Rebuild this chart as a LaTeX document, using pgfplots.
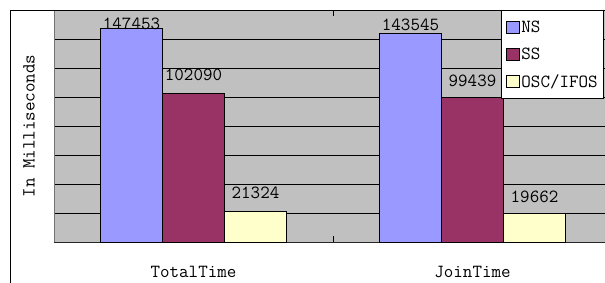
\documentclass[border=0pt]{standalone}
\usepackage{fontspec}
\usepackage{pgfplots}
\usepackage{pgfplotstable}
\pgfplotsset{compat=1.18}
\definecolor{nsc}{RGB}{153,153,255}
\definecolor{ssc}{RGB}{153,51,102}
\definecolor{osc}{RGB}{255,255,204}
\definecolor{bgc}{RGB}{192,192,192}
\newcommand\cf{\ttfamily\fontsize{18.5}{22}\selectfont}

\pgfplotstableread{
x y off lab
0 147453 -2 147453
1 143545 3 143545
}\nsdata
\pgfplotstableread{
x y off lab
0 102090 13 102090
1 99439 11 99439
}\ssdata
\pgfplotstableread{
x y off lab
0 21324 12 21324
1 19662 10 19662
}\osdata

\begin{document}
\begin{tikzpicture}[x=1pt,y=1pt]
\path[use as bounding box] (0,0) rectangle (605,282);
\fill[white] (0,0) rectangle (605,282);
\begin{axis}[
 at={(54pt,40pt)}, anchor=south west, scale only axis,
 width=558pt, height=232pt,
 xmin=-0.5, xmax=1.5, ymin=0, ymax=160000,
 ybar=0pt, bar width=62pt,
 axis background/.style={fill=bgc},
 ytick={0,20000,...,160000}, yticklabels={}, ymajorgrids,
 major grid style={black, line width=0.9pt},
 major tick length=6pt, tick align=inside,
 ytick style={draw=none}, xtick style={draw=none},
 xtick={0,1}, xticklabels={TotalTime,JoinTime},
 extra x ticks={0.5}, extra x tick labels={},
 extra x tick style={xtick style={draw=black,line width=1pt}},
 xticklabel style={font=\cf, anchor=base, yshift=-35pt},
 ylabel={In Milliseconds},
 every axis y label/.style={at={(axis description cs:-0.0448,0.5)}, rotate=90, anchor=center, font=\cf, inner sep=0pt},
 separate axis lines,
 x axis line style={black!85, line width=1pt},
 y axis line style={black!55, line width=1pt},
 scaled y ticks=false,
 nodes near coords, point meta=explicit symbolic,
 visualization depends on={\thisrow{off}\as\myoff},
 nodes near coords style={font=\cf, anchor=south, inner sep=0pt, yshift=\myoff pt},
 every axis plot/.append style={draw=black, line width=1pt},
 legend style={at={(axis description cs:0.801,1)}, anchor=north west, draw=black, line width=1pt, fill=white, font=\cf, inner xsep=5pt, inner ysep=9pt, row sep=12pt, nodes={inner sep=1pt}, legend cell align=left},
 legend image code/.code={\draw[#1, line width=1pt] (0pt,-6pt) rectangle (13pt,6pt);},
]
\addplot[fill=nsc] table[x=x,y=y,meta=lab] {\nsdata};
\addplot[fill=ssc] table[x=x,y=y,meta=lab] {\ssdata};
\addplot[fill=osc] table[x=x,y=y,meta=lab] {\osdata};
\legend{NS,SS,OSC/IFOS\hspace{12pt}}
\end{axis}
\draw[black, line width=1pt] (10,-10) -- (10,272) -- (620,272);
\end{tikzpicture}
\end{document}
